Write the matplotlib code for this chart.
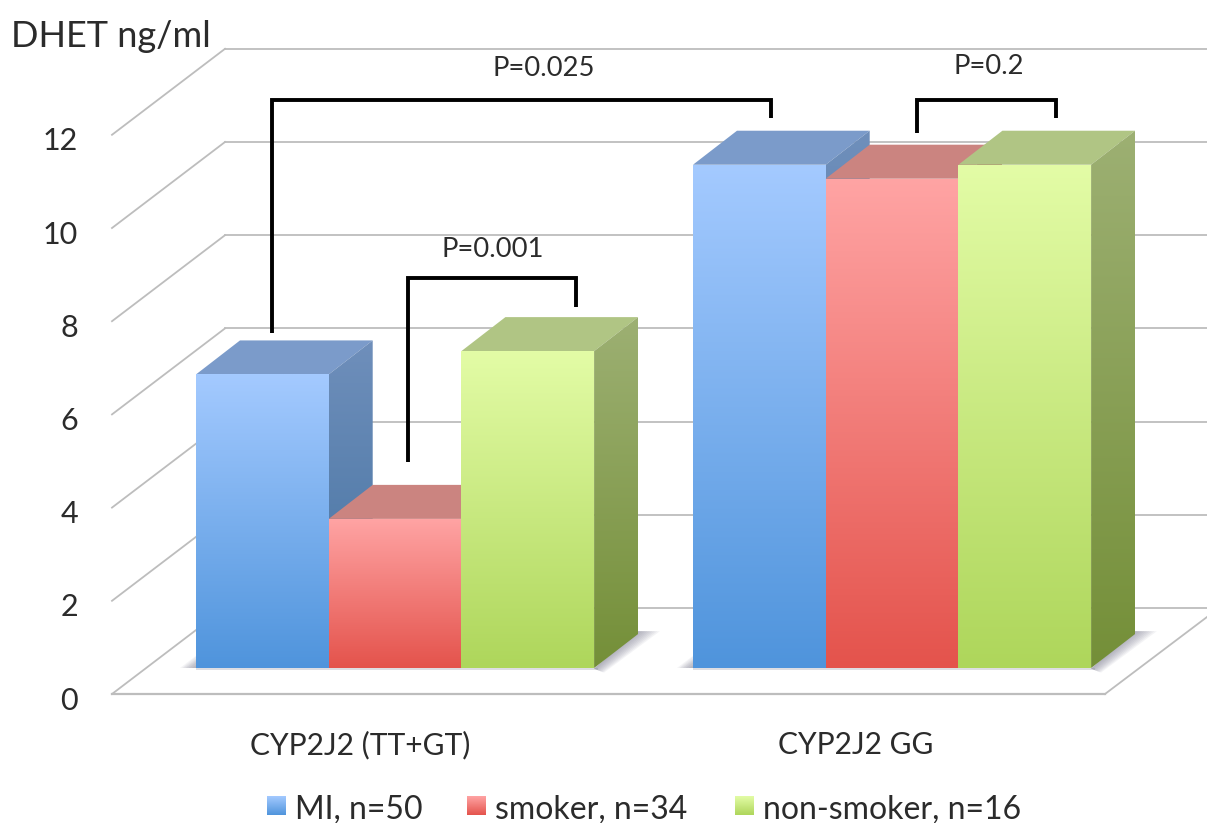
import numpy as np
import matplotlib
matplotlib.use('Agg')
import matplotlib.pyplot as plt
from matplotlib.colors import LinearSegmentedColormap
from matplotlib.patches import Polygon

groups = ['CYP2J2 (TT+GT)', 'CYP2J2 GG']
series = ['MI, n=50', 'smoker, n=34', 'non-smoker, n=16']
mi = [6.3, 10.8]
smoker = [3.2, 10.5]
non_smoker = [6.8, 10.8]
ticks = [0, 2, 4, 6, 8, 10, 12]
p_labels = ['P=0.025', 'P=0.2', 'P=0.001']

# picture geometry, in pixels
W, H = 1207, 823
unit = 46.6         # pixels per ng/ml
base = 668          # bar foot
bar_w = 132.7
group_left = [196, 693]
depth_x, depth_y = 44, 34
text_col = '#2b2b2b'
grid_col = '#bdbdbd'

# front, top, side colours per series: (start, end)
front = [('#a4caff', '#4f94dc'), ('#ffa4a4', '#e4534c'), ('#e3fca6', '#aed65b')]
top = ['#7b9bca', '#cb8480', '#b0c584']
side = [('#6f8fbb', '#41709f'), ('#b0605c', '#8f3f3a'), ('#9db073', '#748f38')]

plt.rcParams['font.family'] = ['Lato', 'DejaVu Sans']

fig = plt.figure(figsize=(W / 100, H / 100), dpi=100)
ax = fig.add_axes([0, 0, 1, 1])
ax.set_xlim(0, W)
ax.set_ylim((base - H) / unit, base / unit)
ax.axis('off')

# same canvas in plain pixels, for the notes drawn over the chart
pix = fig.add_axes([0, 0, 1, 1], zorder=5)
pix.set_xlim(0, W)
pix.set_ylim(H, 0)
pix.axis('off')
pix.patch.set_alpha(0)


def grad_poly(a, verts, c1, c2, z):
    verts = np.array(verts, dtype=float)
    cm = LinearSegmentedColormap.from_list('g', [c1, c2])
    x0, x1 = verts[:, 0].min(), verts[:, 0].max()
    y0, y1 = verts[:, 1].min(), verts[:, 1].max()
    im = a.imshow(np.linspace(0, 1, 256).reshape(-1, 1), cmap=cm, aspect='auto',
                  extent=(x0, x1, y0, y1), origin='upper', zorder=z,
                  interpolation='bilinear')
    clip = Polygon(verts, closed=True, transform=a.transData)
    im.set_clip_path(clip)
    a.set_xlim(0, W)


# walls and floor
wall_front, wall_back = -26 / unit, 60 / unit
for t in ticks:
    ax.plot([225, W], [t + wall_back] * 2, color=grid_col, lw=1.3, zorder=1)
    ax.plot([112, 225], [t + wall_front, t + wall_back], color=grid_col, lw=1.3, zorder=1)
ax.plot([112, 1105], [wall_front] * 2, color=grid_col, lw=1.6, zorder=1)
ax.plot([1105, W], [wall_front, wall_front + 77 / unit], color=grid_col, lw=1.3, zorder=1)

# soft shadow on the floor
dd = depth_y / unit
for left in group_left:
    right = left + 3 * bar_w
    for k in range(10):
        g = 2.2 * k
        ax.add_patch(Polygon([(right, -0.01), (right + depth_x, dd + 0.06),
                              (right + depth_x + g * 1.1, dd + 0.06), (right + g * 0.5, -0.02 - g * 0.004)],
                             closed=True, fc='#7f7f92', ec='none', alpha=0.085, zorder=2))
        ax.add_patch(Polygon([(left - 2 - g * 0.7, 0), (left + 1, 0), (left + 1, 0.04 + g * 0.012)],
                             closed=True, fc='#7f7f92', ec='none', alpha=0.08, zorder=2))
    ax.fill_between([left, right + 4], -0.05, 0, color='#7f7f92', alpha=0.25, lw=0, zorder=2)

# bars, painted from left to right so each one hides the side of the last
for g, left in enumerate(group_left):
    for s, vals in enumerate([mi, smoker, non_smoker]):
        v = vals[g]
        x0 = left + s * bar_w
        x1 = x0 + bar_w
        z = 3 + s * 0.1
        ax.add_patch(Polygon([(x0, v), (x1, v), (x1 + depth_x, v + dd), (x0 + depth_x, v + dd)],
                             closed=True, fc=top[s], ec='none', zorder=z))
        grad_poly(ax, [(x1, v), (x1 + depth_x, v + dd), (x1 + depth_x, dd), (x1, 0)],
                  side[s][0], side[s][1], z)
        grad_poly(ax, [(x0, 0), (x1, 0), (x1, v), (x0, v)], front[s][0], front[s][1], z + 0.01)

ax.set_ylim((base - H) / unit, base / unit)

# y labels and titles
for t in ticks:
    pix.text(78, base + 26 - unit * t + 15.5, str(t), ha='right', va='baseline',
             fontsize=22, color=text_col)
pix.text(11, 36, 'DHET ng/ml', ha='left', va='center', fontsize=26, color=text_col)
pix.text(360, 745, groups[0], ha='center', va='center', fontsize=21.6, color=text_col)
pix.text(856, 745, groups[1], ha='center', va='center', fontsize=21.6, color=text_col)

# significance brackets
bk = dict(color='black', lw=2.8, solid_joinstyle='miter', solid_capstyle='butt')
pix.plot([272, 272, 771, 771], [333, 100, 100, 118], **bk)
pix.plot([917, 917, 1056, 1056], [133, 100, 100, 118], **bk)
pix.plot([408, 408, 576, 576], [462, 278, 278, 307], **bk)
pix.text(544, 68, p_labels[0], ha='center', va='center', fontsize=19.7, color=text_col)
pix.text(989, 66, p_labels[1], ha='center', va='center', fontsize=19.7, color=text_col)
pix.text(493, 249, p_labels[2], ha='center', va='center', fontsize=19.7, color=text_col)

# legend
swatch_x = [267, 467, 735]
for s, name in enumerate(series):
    x = swatch_x[s]
    grad_poly(pix, [(x, 796), (x + 19, 796), (x + 19, 815), (x, 815)],
              front[s][1], front[s][0], 6)
    pix.text(x + 28, 810, name, ha='left', va='center', fontsize=23, color=text_col)
pix.set_xlim(0, W)
pix.set_ylim(H, 0)

fig.savefig('out.png', dpi=100)
